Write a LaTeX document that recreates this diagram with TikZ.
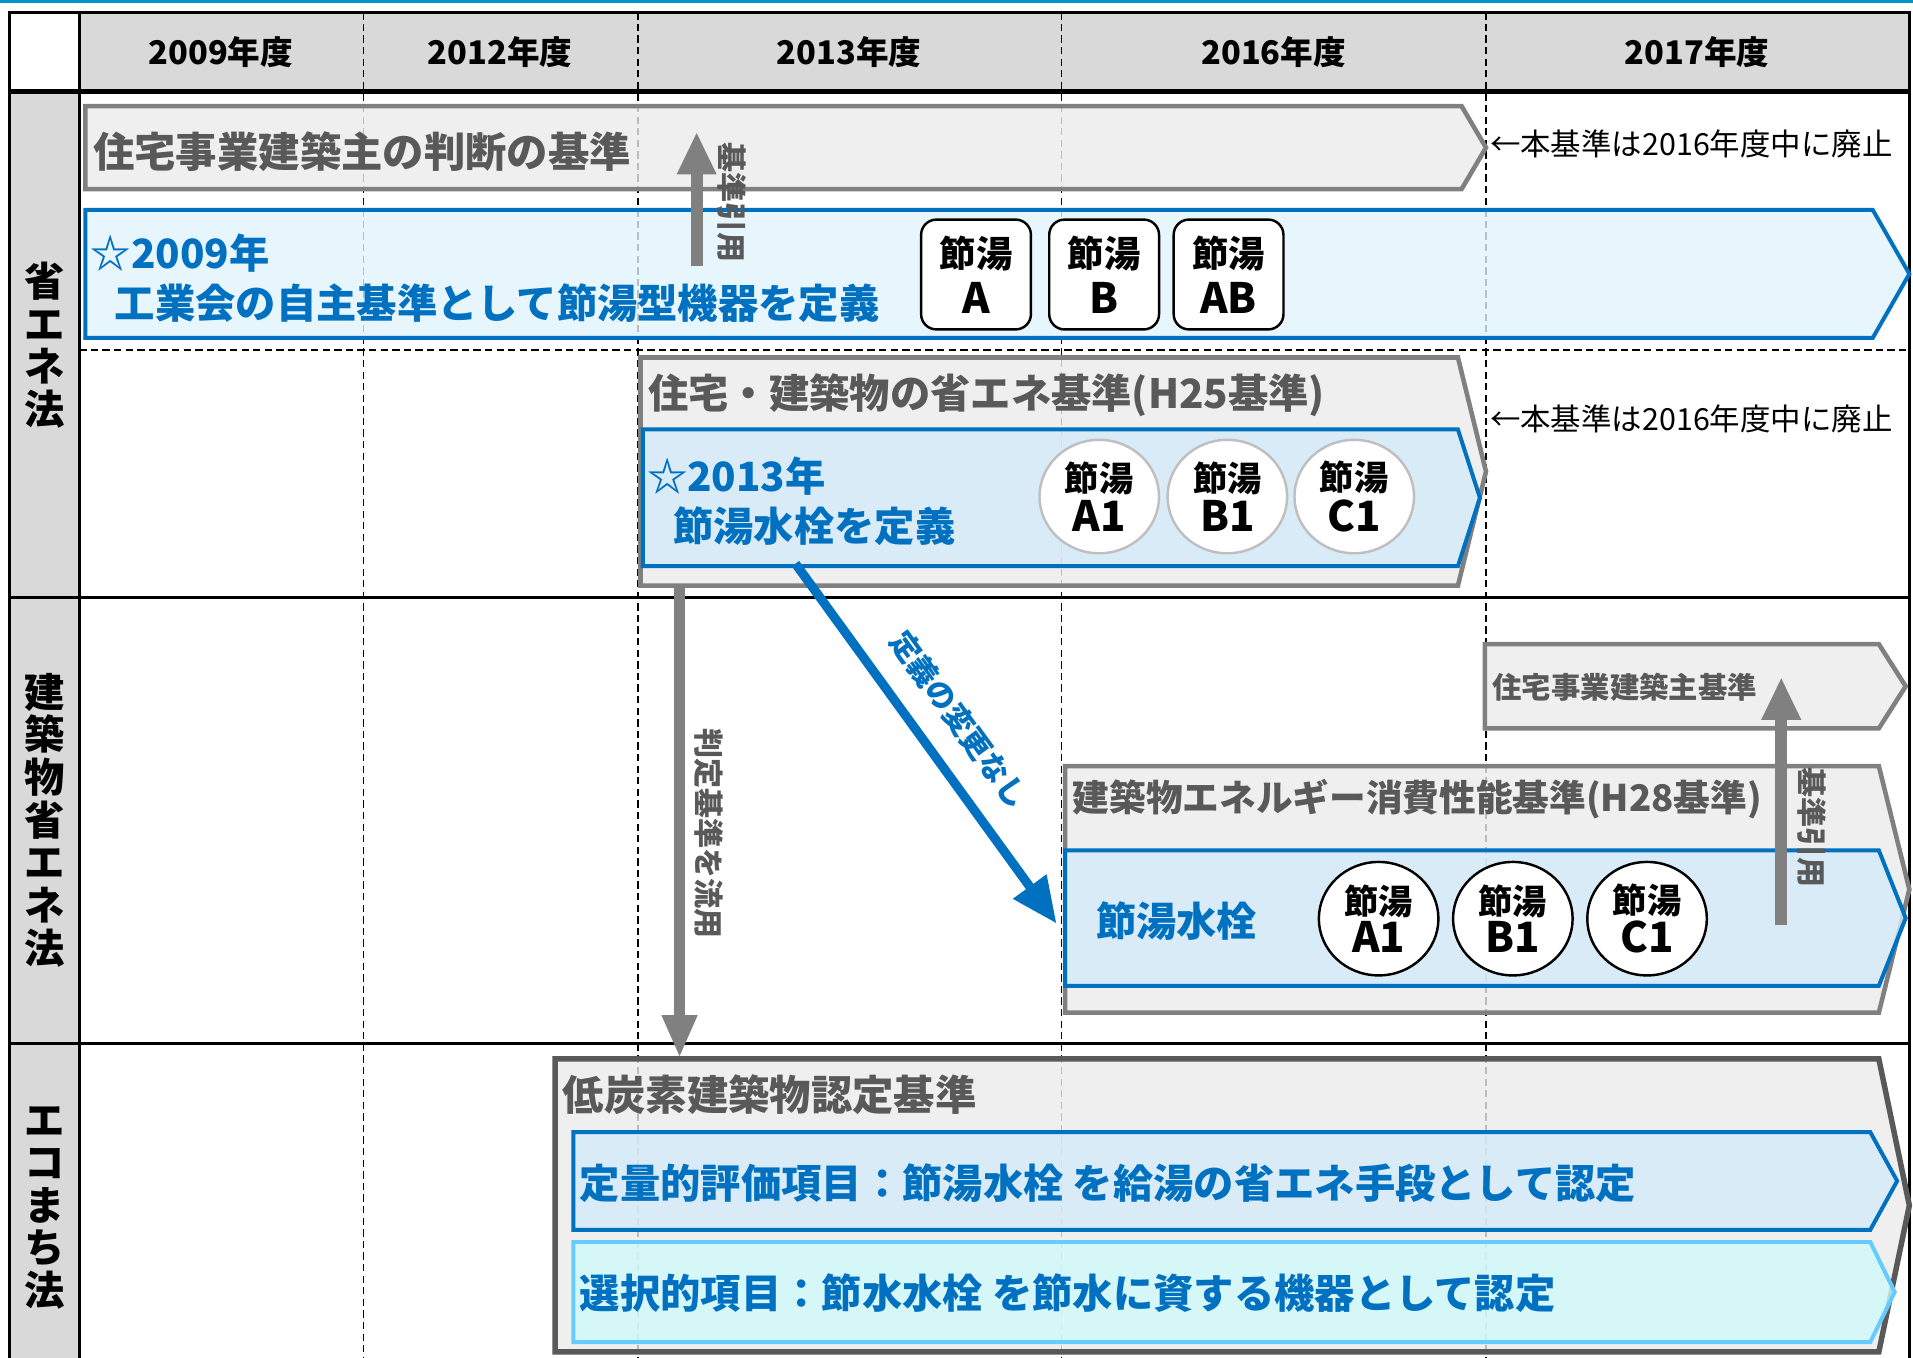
\documentclass[tikz,border=0pt]{standalone}
\usepackage{fontspec}
\setmainfont{Noto Sans CJK JP}
\usetikzlibrary{arrows.meta,shapes.geometric}
\definecolor{hdrgray}{HTML}{D9D9D9}
\definecolor{barfill}{HTML}{EBEBEB}
\definecolor{barline}{HTML}{808080}
\definecolor{darkline}{HTML}{595959}
\definecolor{graytext}{HTML}{595959}
\definecolor{stdblue}{HTML}{0070C0}
\definecolor{paleblue}{HTML}{E1F2FC}
\definecolor{lightblue}{HTML}{D3EAF9}
\definecolor{palecyan}{HTML}{D0FAFA}
\definecolor{cyanline}{HTML}{66CCFF}
\definecolor{topline}{HTML}{0096C8}
\definecolor{ringgray}{HTML}{BFBFBF}
% band with a pointed right end: style, left, top, right, bottom, tip depth
\newcommand{\spanbar}[6]{\draw[#1] (#2,#3) -- (#4,#3) -- ({#4+#6},{(#3+#5)/2}) -- (#4,#5) -- (#2,#5) -- cycle;}
\newcommand{\savetype}[1]{節湯\\{\fontsize{19.5}{19.5}\selectfont #1}}
\tikzset{
	griddash/.style={line width=0.3mm, dash pattern=on 1.2mm off 0.7mm},
	gridline/.style={line width=0.5mm},
	hdr/.style={font=\fontsize{15.2}{17}\selectfont\bfseries},
	rowlabel/.style={align=center, inner sep=0pt, font=\fontsize{18.8}{19.9}\selectfont\bfseries},
	graybar/.style={draw=barline, fill=barfill, fill opacity=0.8, line width=0.75mm},
	bluebar/.style={draw=stdblue, fill=lightblue, fill opacity=0.8, line width=0.65mm},
	bartext/.style={anchor=west, inner sep=0pt, text=graytext, font=\fontsize{19.3}{22}\selectfont\bfseries},
	bluetext/.style={anchor=west, inner sep=0pt, align=left, text=stdblue, font=\fontsize{18.8}{23.3}\selectfont\bfseries},
	note/.style={anchor=west, inner sep=0pt, font=\fontsize{14.2}{16}\selectfont},
	tagbox/.style={draw, fill=white, line width=0.4mm, rounded corners=2.5mm, minimum width=18mm, minimum height=18mm, inner sep=0pt, align=center, font=\fontsize{17}{21.6}\selectfont\bfseries},
	ring/.style={ellipse, draw, fill=white, line width=0.4mm, minimum width=19.6mm, minimum height=18.6mm, inner sep=0pt, align=center, font=\fontsize{16}{19}\selectfont\bfseries},
	cite/.style={draw=barline, line width=2mm, -{Triangle[width=6mm,length=7mm]}},
	citelabel/.style={rotate=-90, inner sep=0pt, text=graytext, font=\fontsize{14}{16}\selectfont\bfseries},
}
\begin{document}
\begin{tikzpicture}[x=0.2mm,y=-0.2mm]
	\useasboundingbox (0,0) rectangle (1568,1113);
	% table
	\fill[hdrgray] (65,10) rectangle (1565,75);
	\fill[hdrgray] (8,75) rectangle (65,1113);
	\draw[topline, line width=0.5mm] (0,1) -- (1568,1);
	\foreach \x in {298,523,870,1218} \draw[griddash] (\x,10) -- (\x,1113);
	\draw[griddash] (65,287) -- (1565,287);
	\foreach \y in {490,855} \draw[gridline] (8,\y) -- (1565,\y);
	\draw[gridline, line width=0.8mm] (8,75) -- (1565,75);
	\draw[gridline] (65,10) -- (65,1113);
	\draw[gridline] (8,1113) -- (8,10) -- (1565,10) -- (1565,1113);
	\node[hdr] (y2009) at (181,43) {2009年度};
	\node[hdr] (y2012) at (410,43) {2012年度};
	\node[hdr] (y2013) at (696,43) {2013年度};
	\node[hdr] (y2016) at (1044,43) {2016年度};
	\node[hdr] (y2017) at (1391,43) {2017年度};
	\node[rowlabel] (lawsave) at (37,283) {省\\エ\\ネ\\法};
	\node[rowlabel] (lawbldg) at (37,672) {建\\築\\物\\省\\エ\\ネ\\法};
	\node[rowlabel] (laweco) at (37,990) {エ\\コ\\ま\\ち\\法};
	% bands
	\spanbar{graybar}{70}{87}{1198}{155}{20}
	\spanbar{bluebar, fill=paleblue}{70}{172}{1535}{277}{30}
	\spanbar{graybar}{525}{293}{1195}{480}{23}
	\spanbar{bluebar}{527}{352}{1195}{464}{18}
	\spanbar{graybar}{1217}{528}{1540}{597}{22}
	\spanbar{graybar}{873}{628}{1540}{830}{25}
	\spanbar{bluebar}{873}{697}{1540}{808}{22}
	\spanbar{graybar, draw=darkline, line width=0.9mm}{455}{868}{1540}{1108}{25}
	\spanbar{bluebar}{470}{928}{1533}{1008}{22}
	\spanbar{bluebar, draw=cyanline, fill=palecyan}{470}{1018}{1533}{1100}{20}
	% texts
	\node[bartext] (ownerold) at (76,124) {住宅事業建築主の判断の基準};
	\node[note] (endold) at (1221,118) {←本基準は2016年度中に廃止};
	\node[bluetext] (def09) at (74,228) {☆2009年\\\hspace*{0.6em}工業会の自主基準として節湯型機器を定義};
	\node[tagbox] (tagA) at (800,225) {\savetype{A}};
	\node[tagbox] (tagB) at (905,225) {\savetype{B}};
	\node[tagbox] (tagAB) at (1007,225) {\savetype{AB}};
	\node[bartext, font=\fontsize{18.8}{22}\selectfont\bfseries] (h25) at (531,324) {住宅・建築物の省エネ基準(H25基準)};
	\node[note] (endh25) at (1221,343) {←本基準は2016年度中に廃止};
	\node[bluetext] (def13) at (530,411) {☆2013年\\\hspace*{0.65em}節湯水栓を定義};
	\node[ring, draw=ringgray] (ringA) at (901,407) {\savetype{A1}};
	\node[ring, draw=ringgray] (ringB) at (1006,407) {\savetype{B1}};
	\node[ring, draw=ringgray] (ringC) at (1110,407) {\savetype{C1}};
	\node[bartext, font=\fontsize{13.7}{16}\selectfont\bfseries] (ownernew) at (1223,563) {住宅事業建築主基準};
	\node[bartext, font=\fontsize{17.1}{20}\selectfont\bfseries] (h28) at (879,655) {建築物エネルギー消費性能基準(H28基準)};
	\node[bluetext] (tap16) at (898,755) {節湯水栓};
	\node[ring, font=\fontsize{16}{18}\selectfont\bfseries] (ringA16) at (1130,753) {\savetype{A1}};
	\node[ring, font=\fontsize{16}{18}\selectfont\bfseries] (ringB16) at (1240,753) {\savetype{B1}};
	\node[ring, font=\fontsize{16}{18}\selectfont\bfseries] (ringC16) at (1350,753) {\savetype{C1}};
	\node[bartext] (lowcarbon) at (461,897) {低炭素建築物認定基準};
	\node[bluetext] (quant) at (475,970) {定量的評価項目：節湯水栓 を給湯の省エネ手段として認定};
	\node[bluetext] (select) at (475,1060) {選択的項目：節水水栓 を節水に資する機器として認定};
	% arrows
	\coordinate (cite09from) at (571,218);
	\coordinate (cite09to) at (571,108);
	\coordinate (usefrom) at (557,480);
	\coordinate (useto) at (557,867);
	\coordinate (deffrom) at (652,462);
	\coordinate (defto) at (866,757);
	\coordinate (cite16from) at (1460,758);
	\coordinate (cite16to) at (1460,555);
	\draw[cite] (cite09from) -- (cite09to);
	\node[citelabel] (cite09label) at (600,166) {基準引用};
	\draw[cite, line width=1.7mm, -{Triangle[width=5.4mm,length=7mm]}] (usefrom) -- (useto);
	\node[citelabel] (uselabel) at (581,683) {判定基準を流用};
	\draw[stdblue, line width=1.5mm, -{Triangle[width=6.4mm,length=7.5mm]}] (deffrom) -- node[sloped, above=3.6mm, inner sep=0pt, text=stdblue, font=\fontsize{14}{16}\selectfont\bfseries, pos=0.5] (deflabel) {定義の変更なし} (defto);
	\draw[cite] (cite16from) -- (cite16to);
	\node[citelabel] (cite16label) at (1485,678) {基準引用};
\end{tikzpicture}
\end{document}
